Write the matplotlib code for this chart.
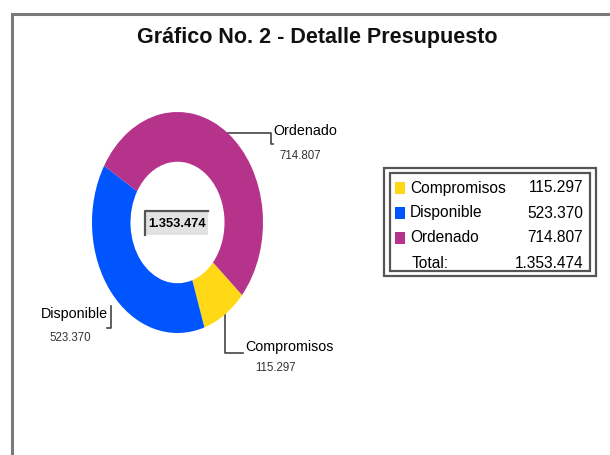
import numpy as np
import matplotlib.pyplot as plt
from matplotlib.patches import Rectangle

# Datos del gráfico
categorias = ["Compromisos", "Disponible", "Ordenado"]
valores = [115297, 523370, 714807]
colores = ["#FFD816", "#0055FF", "#B5338A"]
titulo = "Gráfico No. 2 - Detalle Presupuesto"

total = sum(valores)


def fmt(v):
    return f"{v:,}".replace(",", ".")


plt.rcParams["font.family"] = ["Liberation Sans", "DejaVu Sans"]

W, H = 610, 455
fig = plt.figure(figsize=(W / 100, H / 100), dpi=100)

# capa de fondo en pixeles (y hacia abajo)
ax0 = fig.add_axes([0, 0, 1, 1])
ax0.set_xlim(0, W)
ax0.set_ylim(H, 0)
ax0.axis("off")

# marco exterior
ax0.plot([12, 12, W + 5], [H + 5, 14, 14], color="#7a7a7a", lw=2.2,
         solid_joinstyle="miter")

ax0.text(317, 38, titulo, ha="center", va="center", fontsize=15.5,
         fontweight="bold", color="#111111")

# dona (ligeramente estirada en vertical, como en el original)
cx0, cy0, cx1, cy1 = 92, 112, 263, 333
axp = fig.add_axes([cx0 / W, (H - cy1) / H, (cx1 - cx0) / W, (cy1 - cy0) / H])
wedges, _ = axp.pie(valores, colors=colores, startangle=-41,
                    counterclock=False, radius=1,
                    wedgeprops=dict(width=0.45, linewidth=0))
axp.set_xlim(-1, 1)
axp.set_ylim(-1, 1)
axp.set_aspect("auto")
axp.axis("off")


def ancla(w):
    ang = np.deg2rad((w.theta1 + w.theta2) / 2)
    p = axp.transData.transform((np.cos(ang), np.sin(ang)))
    return ax0.transData.inverted().transform(p)


lc = "#444444"
# Compromisos
x, y = ancla(wedges[0])
ax0.plot([x, x, 243], [y, 353, 353], color=lc, lw=1.2)
ax0.text(245, 347, categorias[0], ha="left", va="center", fontsize=10.3)
ax0.text(275, 368, fmt(valores[0]), ha="center", va="center", fontsize=8.3,
         color="#333333")
# Disponible
x, y = ancla(wedges[1])
ax0.plot([x, x, x - 4], [y + 14, 328, 328], color=lc, lw=1.2)
ax0.text(108, 314, categorias[1], ha="right", va="center", fontsize=10.3)
ax0.text(70, 338, fmt(valores[1]), ha="center", va="center", fontsize=8.3,
         color="#333333")
# Ordenado
x, y = ancla(wedges[2])
ax0.plot([x, 271, 271, 273], [y, y, y + 11, y + 11], color=lc, lw=1.2)
ax0.text(273, 131, categorias[2], ha="left", va="center", fontsize=10.3)
ax0.text(300, 156, fmt(valores[2]), ha="center", va="center", fontsize=8.3,
         color="#333333")

# total en el centro
ax0.add_patch(Rectangle((145, 211), 63, 24, facecolor="#e2e2e2",
                        edgecolor="none"))
ax0.plot([145, 145, 208], [235, 211, 211], color="#555555", lw=1.6)
ax0.text(177, 224, fmt(total), ha="center", va="center", fontsize=9.3,
         fontweight="bold")

# leyenda
ax0.add_patch(Rectangle((384, 168), 212, 108, fill=False,
                        edgecolor="#555555", lw=1.6))
ax0.add_patch(Rectangle((390, 173), 200, 98, fill=False,
                        edgecolor="#555555", lw=1.6))
filas = [188, 213, 238]
for cat, val, col, yy in zip(categorias, valores, colores, filas):
    ax0.add_patch(Rectangle((395, yy - 6), 10, 12, facecolor=col,
                            edgecolor="none"))
    ax0.text(410, yy, cat, ha="left", va="center", fontsize=11.2)
    ax0.text(583, yy, fmt(val), ha="right", va="center", fontsize=11.2)
ax0.text(412, 264, "Total:", ha="left", va="center", fontsize=11.2)
ax0.text(583, 264, fmt(total), ha="right", va="center", fontsize=11.2)

fig.savefig("out.png", dpi=100)
